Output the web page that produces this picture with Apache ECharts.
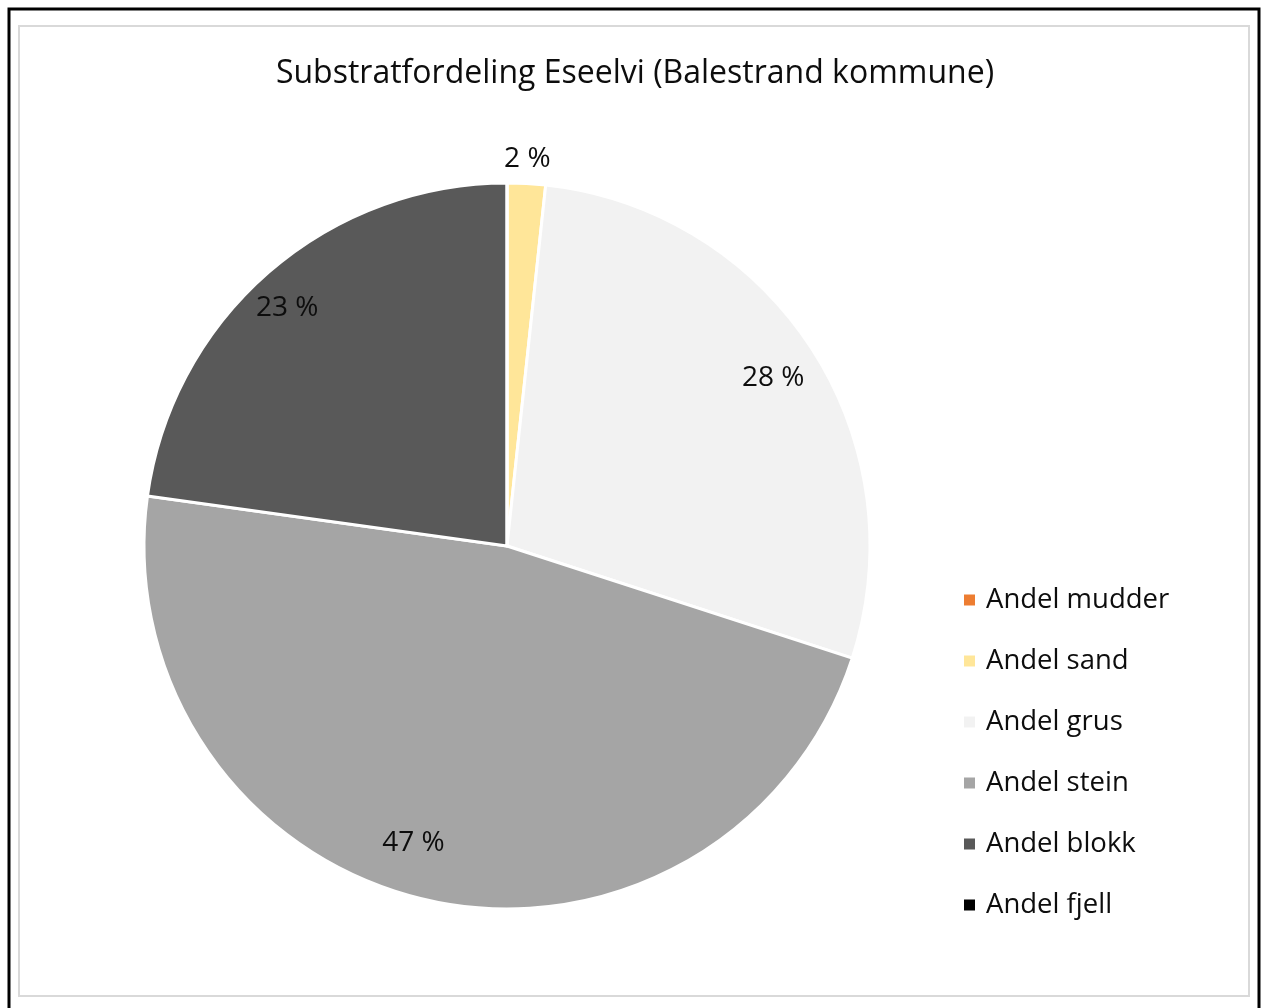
<!DOCTYPE html>
<html>
<head>
<meta charset="utf-8">
<script src="https://cdn.jsdelivr.net/npm/echarts@6/dist/echarts.min.js"></script>
<style>
html,body{margin:0;padding:0;background:#fff;}
#c{width:1263px;height:1008px;}
</style>
</head>
<body>
<div id="c"></div>
<script>
const titleText = 'Substratfordeling Eseelvi (Balestrand kommune)';
const categories = ['Andel mudder', 'Andel sand', 'Andel grus', 'Andel stein', 'Andel blokk', 'Andel fjell'];
const values = [0, 1.7, 28.3, 47.2, 22.8, 0];
const colors = ['#ED7D31', '#FFE699', '#F2F2F2', '#A5A5A5', '#595959', '#000000'];
const labelFont = '"Open Sans", "Noto Sans", sans-serif';

// label nudges (layout only)
const labelNudges = [[0, 0], [-28, -11], [-2, 6], [-22, -14], [-10, 3], [0, 0]];

const chart = echarts.init(document.getElementById('c'), null, {renderer: 'canvas'});

const mainData = categories.map((n, i) => ({name: n, value: values[i], itemStyle: {color: colors[i]}}));
const labelData = categories.map((n, i) => {
  const d = {name: n, value: values[i], itemStyle: {color: 'rgba(0,0,0,0)', borderWidth: 0}, label: {offset: labelNudges[i]}};
  if (values[i] === 0) d.label.show = false;
  else if (values[i] < 5) d.label.position = 'outside';
  return d;
});

chart.setOption({
  animation: false,
  backgroundColor: '#fff',
  color: colors,
  graphic: [
    {type: 'rect', shape: {x: 9, y: 9, width: 1250, height: 1010}, style: {fill: 'none', stroke: '#000', lineWidth: 3}, silent: true},
    {type: 'rect', shape: {x: 19, y: 26, width: 1230, height: 970}, style: {fill: 'none', stroke: '#d9d9d9', lineWidth: 2}, silent: true}
  ],
  title: {
    text: titleText,
    left: 630, top: 53, textAlign: 'center',
    textStyle: {fontFamily: labelFont, fontSize: 32, fontWeight: 'normal', color: '#0d0d0d'}
  },
  legend: {
    orient: 'vertical',
    left: 957, top: 581,
    itemWidth: 13, itemHeight: 13, itemGap: 33,
    icon: 'rect',
    data: categories,
    textStyle: {fontFamily: labelFont, fontSize: 27.5, color: '#0d0d0d', padding: [0, 0, 0, 5]}
  },
  series: [
    {
      type: 'pie',
      center: [507, 546],
      radius: [0, 363],
      startAngle: 90,
      clockwise: true,
      silent: true,
      label: {show: false},
      labelLine: {show: false},
      itemStyle: {borderColor: '#fff', borderWidth: 3},
      data: mainData
    },
    {
      type: 'pie',
      center: [507, 546],
      radius: [270, 363],
      startAngle: 90,
      clockwise: true,
      silent: true,
      legendHoverLink: false,
      label: {show: true, position: 'inside', formatter: p => Math.round(p.value) + ' %', fontFamily: labelFont, fontSize: 28, color: '#0d0d0d'},
      labelLine: {show: false, length: 14, length2: 0},
      data: labelData
    }
  ]
});
</script>
</body>
</html>
